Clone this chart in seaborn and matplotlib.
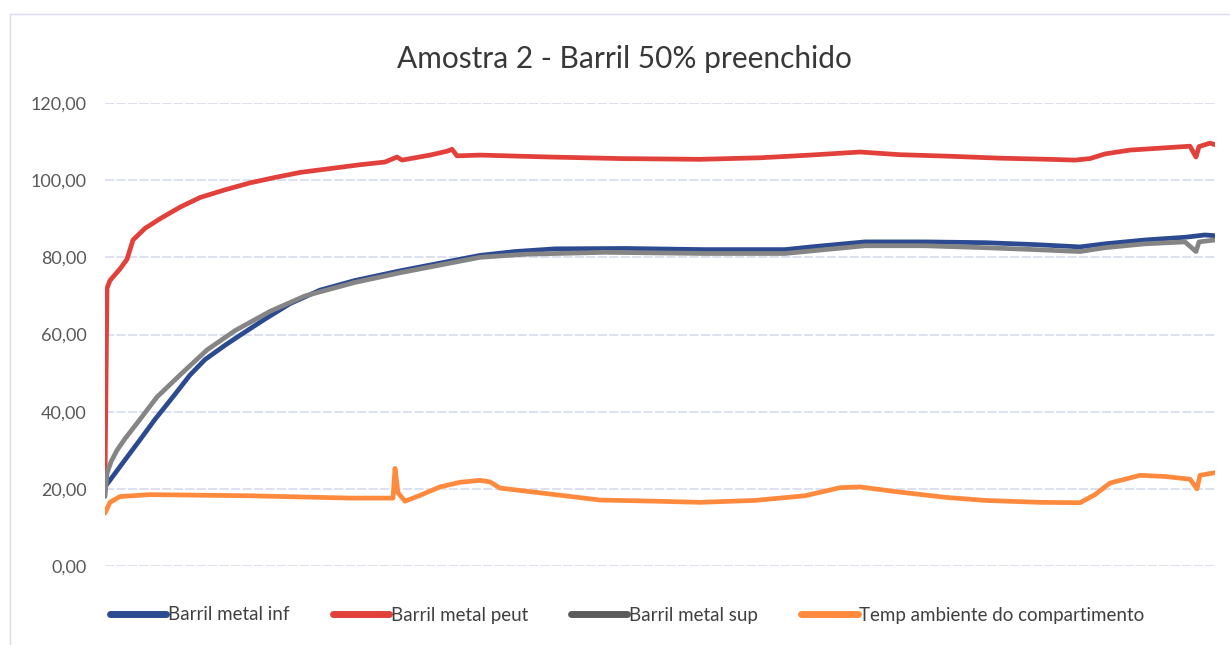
import matplotlib
matplotlib.use("Agg")
import matplotlib.pyplot as plt
from matplotlib.patches import Rectangle
from matplotlib.lines import Line2D
from matplotlib.ticker import FuncFormatter
import seaborn as sns
import pandas as pd

# ---- data (x is an arbitrary time index) ----
t_inf = [0, 10, 20, 35, 50, 70, 85, 100, 120, 135, 160, 185, 215, 250, 295, 335, 375, 410,
         450, 520, 600, 680, 710, 760, 820, 880, 930, 975, 1000, 1040, 1080, 1100, 1110]
inf = [20.5, 24, 27.5, 32.7, 38, 44.5, 49.5, 53.5, 57.2, 59.8, 64, 68, 71.5, 74, 76.5, 78.5, 80.5, 81.5,
       82.2, 82.3, 82, 82, 82.8, 84, 84, 83.8, 83.3, 82.7, 83.5, 84.5, 85.2, 85.8, 85.6]

t_peut = [0, 2, 5, 15, 22, 28, 40, 55, 75, 95, 120, 145, 170, 195, 225, 255, 280, 292, 297,
          325, 342, 347, 352, 375, 445, 515, 595, 655, 705, 755, 795, 845, 895, 945, 970,
          985, 1000, 1025, 1055, 1085, 1091, 1094, 1105, 1110]
peut = [22, 72, 74, 77, 79.5, 84.5, 87.5, 90, 93, 95.5, 97.5, 99.3, 100.7, 102, 103, 104, 104.7, 106, 105.2,
        106.5, 107.5, 108, 106.3, 106.5, 106, 105.6, 105.4, 105.8, 106.5, 107.3, 106.6, 106.2, 105.7, 105.4, 105.2,
        105.6, 106.8, 107.8, 108.3, 108.8, 106, 108.7, 109.6, 109.2]

t_sup = [0, 2, 6, 12, 20, 35, 52, 75, 102, 130, 165, 200, 250, 295, 335, 375, 420, 500, 600, 680,
         720, 760, 820, 880, 930, 975, 1000, 1040, 1080, 1091, 1094, 1110]
sup = [18, 24, 27, 30, 33, 38, 43.8, 49.5, 56, 61, 66, 70, 73.5, 76, 78, 80, 80.8, 81.3, 81, 81,
       82, 83, 83, 82.5, 82, 81.5, 82.5, 83.5, 84, 81.5, 84, 84.5]

t_temp = [0, 5, 15, 45, 145, 245, 288, 290, 293, 300, 315, 335, 355, 375, 385, 395, 450, 495,
          550, 595, 650, 700, 735, 755, 790, 840, 880, 935, 975, 990, 1005, 1035, 1060, 1085,
          1092, 1095, 1110]
temp = [13.7, 16.5, 18, 18.5, 18.2, 17.6, 17.6, 25.3, 19, 16.8, 18.3, 20.5, 21.7, 22.2, 21.8, 20.2, 18.5, 17.1,
        16.8, 16.5, 17, 18.2, 20.3, 20.5, 19.3, 17.8, 17, 16.5, 16.4, 18.5, 21.5, 23.5, 23.2, 22.5,
        20, 23.5, 24.2]

series_names = ["Barril metal inf", "Barril metal peut", "Barril metal sup",
                "Temp ambiente do compartimento"]
yticks = [0, 20, 40, 60, 80, 100, 120]
title = "Amostra 2 - Barril 50% preenchido"

# ---- build long table ----
frames = []
for name, tx, vals in zip(series_names, [t_inf, t_peut, t_sup, t_temp], [inf, peut, sup, temp]):
    frames.append(pd.DataFrame({"t": tx, "valor": vals, "serie": name}))
df = pd.concat(frames, ignore_index=True)

palette = {
    "Barril metal inf": "#2b4a90",
    "Barril metal peut": "#e2403a",
    "Barril metal sup": "#858585",
    "Temp ambiente do compartimento": "#ff8a3d",
}

sns.set_theme(style="white")
plt.rcParams["font.family"] = ["Lato", "DejaVu Sans"]

fig = plt.figure(figsize=(12.3, 6.45), dpi=100)
ax = fig.add_axes([105 / 1230, 1 - 566 / 645, 1110 / 1230, 463 / 645])

sns.lineplot(data=df, x="t", y="valor", hue="serie", hue_order=series_names,
             palette=palette, linewidth=3.4, ax=ax, legend=False, sort=False)

ax.set_xlim(0, 1110)
ax.set_ylim(0, 120)
ax.set_yticks(yticks)
ax.yaxis.set_major_formatter(FuncFormatter(lambda v, p: f"{v:.2f}".replace(".", ",")))
ax.set_xticks([])
ax.set_xlabel("")
ax.set_ylabel("")
ax.tick_params(axis="y", length=0, pad=13, labelsize=13, labelcolor="#595959")
for s in ax.spines.values():
    s.set_visible(False)
ax.grid(axis="y", color="#d3d7ee", linewidth=1.1, linestyle=(0, (6, 1.5)))
ax.set_axisbelow(True)

fig.text(0.508, 1 - 59 / 645, title, ha="center", va="center", fontsize=21.5, color="#383838")

# legend
handles = [Line2D([0], [0], color=palette[n] if n != "Barril metal sup" else "#5a5a5a", lw=5)
           for n in series_names]
fig.legend(handles, series_names, loc="center", bbox_to_anchor=(0.51, 1 - 615 / 645),
           ncol=4, frameon=False, fontsize=13.5, handlelength=3.0, handletextpad=0.1,
           columnspacing=2.3, labelcolor="#404040")

# faint chart border
fig.add_artist(Rectangle((10 / 1230, -0.02), 1.0, 1 - 14 / 645 + 0.02, transform=fig.transFigure,
                         fill=False, edgecolor="#d8dbec", linewidth=1.0))

fig.savefig("out.png", dpi=100)
